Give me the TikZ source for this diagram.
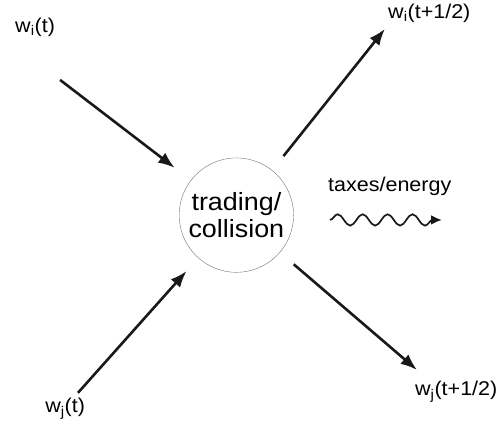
\documentclass[tikz,border=0pt]{standalone}
\usepackage{fontspec}
\setmainfont[FakeStretch=1.08]{Liberation Sans}
\usepackage{tikz}
\usetikzlibrary{arrows.meta, decorations.pathmorphing}

\begin{document}
\begin{tikzpicture}[
labelnode/.style={inner sep=0pt, anchor=base west, font=\fontsize{20}{24}\selectfont},
collnode/.style={circle, draw=black!55, thin, minimum size=3.85cm, align=center, font=\fontsize{25}{27}\selectfont},
flowarrow/.style={line width=2.6pt, black!90, -{Latex[length=5.8mm,width=4.4mm]}},
wavearrow/.style={line width=1.7pt, black!90, -{Latex[length=3.8mm,width=3.4mm]}, decorate,
  decoration={snake, amplitude=0.2cm, segment length=0.88cm, post length=3mm}},
]
\useasboundingbox (0,0) rectangle (17.57,15.17);

%Nodes
\node[collnode] (coll) at (8.34,7.58) {trading/\\collision};
\node[labelnode] (wit) at (0.53,14.01) {w\textsubscript{i}(t)};
\node[labelnode] (wihalf) at (13.69,14.53) {w\textsubscript{i}(t+1/2)};
\node[labelnode] (wjhalf) at (14.64,1.20) {w\textsubscript{j}(t+1/2)};
\node[labelnode] (wjt) at (1.59,0.60) {w\textsubscript{j}(t)};
\node[labelnode] (taxes) at (11.57,8.40) {taxes/energy};

\coordinate (wit_out) at (2.12,12.35);
\coordinate (wihalf_in) at (13.58,14.15);
\coordinate (wjhalf_in) at (14.71,2.12);
\coordinate (wjt_out) at (2.75,1.31);
\coordinate (wave_start) at (11.64,7.41);
\coordinate (wave_end) at (15.59,7.41);

%Lines
\draw[flowarrow, shorten >=0.72cm] (wit_out) -- (coll);
\draw[flowarrow, shorten >=0.62cm] (wjt_out) -- (coll);
\draw[flowarrow, shorten <=0.64cm] (coll) -- (wihalf_in);
\draw[flowarrow, shorten <=0.64cm] (coll) -- (wjhalf_in);
\draw[wavearrow] (wave_start) -- (wave_end);

\end{tikzpicture}
\end{document}
